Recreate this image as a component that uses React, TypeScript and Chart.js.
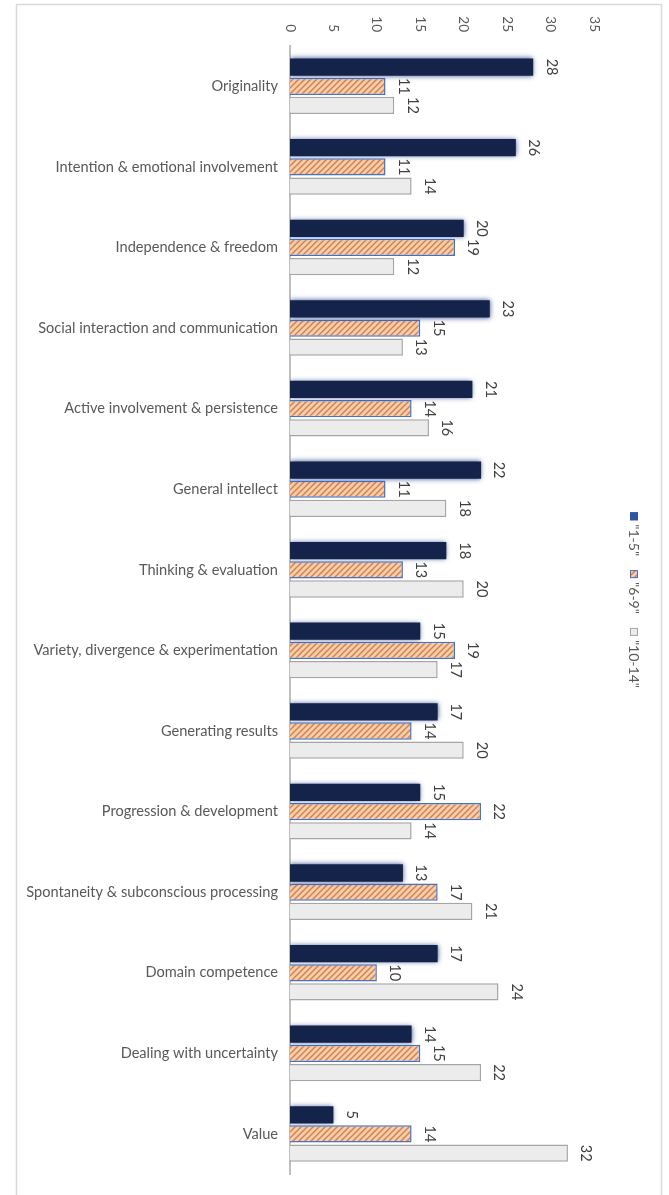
import React, { useEffect, useRef } from "react";
import { Chart, registerables } from "chart.js";

Chart.register(...registerables);

const categories = [
  "Originality",
  "Intention & emotional involvement",
  "Independence & freedom",
  "Social interaction and communication",
  "Active involvement & persistence",
  "General intellect",
  "Thinking & evaluation",
  "Variety, divergence & experimentation",
  "Generating results",
  "Progression & development",
  "Spontaneity & subconscious processing",
  "Domain competence",
  "Dealing with uncertainty",
  "Value",
];
const series1to5 = [28, 26, 20, 23, 21, 22, 18, 15, 17, 15, 13, 17, 14, 5];
const series6to9 = [11, 11, 19, 15, 14, 11, 13, 19, 14, 22, 17, 10, 15, 14];
const series10to14 = [12, 14, 12, 13, 16, 18, 20, 17, 20, 14, 21, 24, 22, 32];
const seriesLabels = ['"1-5"', '"6-9"', '"10-14"'];
const xTicks = [0, 5, 10, 15, 20, 25, 30, 35];

const FONT = "Lato, 'Open Sans', sans-serif";

function makeHatch(): CanvasPattern | string {
  const c = document.createElement("canvas");
  const s = 6;
  c.width = s;
  c.height = s;
  const g = c.getContext("2d");
  if (!g) return "#f8cbad";
  g.fillStyle = "#f9cdaa";
  g.fillRect(0, 0, s, s);
  g.strokeStyle = "#d0814f";
  g.lineWidth = 1.4;
  g.beginPath();
  g.moveTo(0, s);
  g.lineTo(s, 0);
  g.moveTo(-s / 2, s / 2);
  g.lineTo(s / 2, -s / 2);
  g.moveTo(s / 2, s * 1.5);
  g.lineTo(s * 1.5, s / 2);
  g.stroke();
  const p = g.createPattern(c, "repeat");
  return p || "#f8cbad";
}

export default function App() {
  const ref = useRef<HTMLCanvasElement | null>(null);

  useEffect(() => {
    const canvas = ref.current;
    if (!canvas) return;
    const hatch = makeHatch();

    const legendStyles = [
      { fill: "#2f55a3", stroke: "#2f55a3" },
      { fill: hatch, stroke: "#4472c4" },
      { fill: "#ececec", stroke: "#a5a5a5" },
    ];

    const overlay = {
      id: "overlay",
      beforeDraw(chart: any) {
        const ctx = chart.ctx;
        ctx.save();
        ctx.fillStyle = "#ffffff";
        ctx.fillRect(0, 0, chart.width, chart.height);
        ctx.strokeStyle = "#d9d9d9";
        ctx.lineWidth = 1.5;
        ctx.strokeRect(16.5, 4.5, 645, 1220);
        ctx.restore();
      },
      beforeDatasetDraw(chart: any, args: any) {
        if (args.index === 0) {
          const ctx = chart.ctx;
          ctx.save();
          ctx.shadowColor = "rgba(40,70,140,0.9)";
          ctx.shadowBlur = 5;
        }
      },
      afterDatasetDraw(chart: any, args: any) {
        if (args.index === 0) chart.ctx.restore();
      },
      afterDraw(chart: any) {
        const ctx = chart.ctx;
        const xs = chart.scales.x;
        const area = chart.chartArea;
        // x tick labels, rotated clockwise
        ctx.save();
        ctx.fillStyle = "#595959";
        ctx.font = `13.5px ${FONT}`;
        ctx.textAlign = "right";
        ctx.textBaseline = "middle";
        for (const v of xTicks) {
          const px = xs.getPixelForValue(v);
          ctx.save();
          ctx.translate(px, 32);
          ctx.rotate(Math.PI / 2);
          ctx.fillText(String(v), 0, 0);
          ctx.restore();
        }
        ctx.restore();

        // data labels
        ctx.save();
        ctx.fillStyle = "#404040";
        ctx.font = `14.5px ${FONT}`;
        ctx.textAlign = "center";
        ctx.textBaseline = "middle";
        chart.data.datasets.forEach((ds: any, i: number) => {
          const meta = chart.getDatasetMeta(i);
          meta.data.forEach((el: any, j: number) => {
            ctx.save();
            ctx.translate(el.x + 18, el.y);
            ctx.rotate(Math.PI / 2);
            ctx.fillText(String(ds.data[j]), 0, 0);
            ctx.restore();
          });
        });
        ctx.restore();

        // legend, rotated clockwise
        ctx.save();
        ctx.font = `14px ${FONT}`;
        const box = 8;
        const gapText = 4;
        const gapItem = 14;
        const widths = seriesLabels.map((t) => ctx.measureText(t).width);
        const total =
          widths.reduce((a, w) => a + box + gapText + w, 0) + gapItem * (seriesLabels.length - 1);
        let y = (area.top + area.bottom) / 2 - total / 2 - 10;
        const lx = 634;
        seriesLabels.forEach((t, i) => {
          const st = legendStyles[i];
          ctx.fillStyle = st.fill;
          ctx.fillRect(lx - box / 2, y, box, box);
          ctx.strokeStyle = st.stroke;
          ctx.lineWidth = 1;
          ctx.strokeRect(lx - box / 2 + 0.5, y + 0.5, box - 1, box - 1);
          y += box + gapText;
          ctx.save();
          ctx.translate(lx, y);
          ctx.rotate(Math.PI / 2);
          ctx.fillStyle = "#595959";
          ctx.textAlign = "left";
          ctx.textBaseline = "middle";
          ctx.fillText(t, 0, 0);
          ctx.restore();
          y += widths[i] + gapItem;
        });
        ctx.restore();
      },
    };

    const chart = new Chart(canvas, {
      type: "bar",
      data: {
        labels: categories,
        datasets: [
          {
            label: seriesLabels[0],
            data: series1to5,
            backgroundColor: "#14234a",
            borderWidth: 0,
            categoryPercentage: 0.714,
            barPercentage: 0.9,
          },
          {
            label: seriesLabels[1],
            data: series6to9,
            backgroundColor: hatch as any,
            borderColor: "#4472c4",
            borderWidth: 1.5,
            categoryPercentage: 0.714,
            barPercentage: 0.9,
          },
          {
            label: seriesLabels[2],
            data: series10to14,
            backgroundColor: "#ececec",
            borderColor: "#a5a5a5",
            borderWidth: 1.5,
            categoryPercentage: 0.714,
            barPercentage: 0.9,
          },
        ],
      },
      options: {
        indexAxis: "y",
        responsive: false,
        animation: false,
        devicePixelRatio: 1,
        layout: { padding: { left: 16, top: 46, right: 75, bottom: 18 } },
        plugins: {
          legend: { display: false },
          tooltip: { enabled: false },
        },
        scales: {
          x: { display: false, min: 0, max: 35 },
          y: {
            grid: { display: false, drawTicks: false },
            border: { display: true, color: "#bfbfbf", width: 2 },
            ticks: {
              color: "#595959",
              font: { family: FONT, size: 14.6 },
              padding: 12,
              autoSkip: false,
            },
            afterFit(scale: any) {
              scale.width = 274;
            },
          },
        },
      },
      plugins: [overlay],
    } as any);

    return () => chart.destroy();
  }, []);

  return (
    <div style={{ position: "fixed", left: 0, top: 0, width: 669, height: 1195, background: "#fff" }}>
      <canvas ref={ref} width={669} height={1195} style={{ width: 669, height: 1195, display: "block" }} />
    </div>
  );
}
